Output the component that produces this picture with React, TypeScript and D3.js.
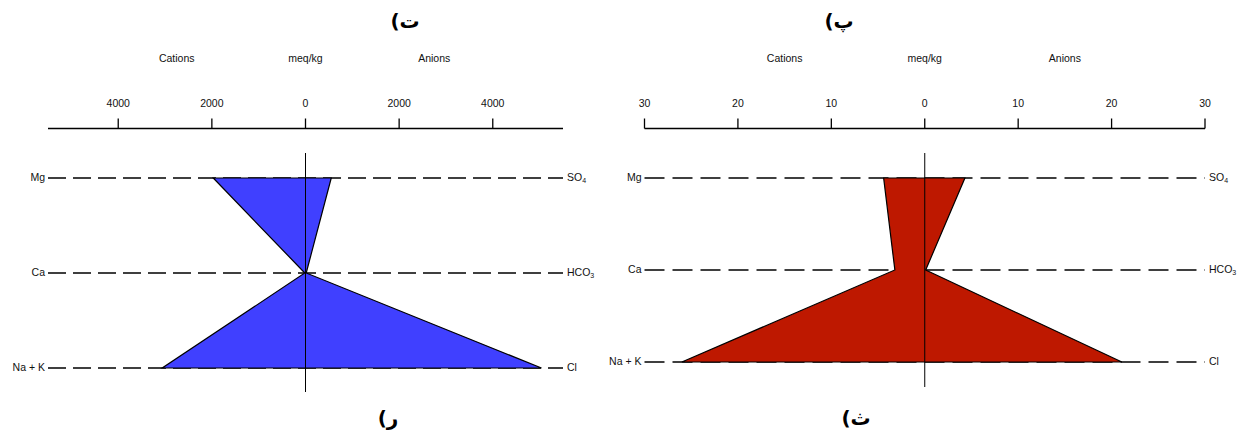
import { useMemo } from 'react';
import * as d3 from 'd3';

// Stiff diagrams, meq/kg
const cationNames = ['Mg', 'Ca', 'Na + K'];
const anionNames = [['SO', '4'], ['HCO', '3'], ['Cl', '']];

const leftCations = [1970, 15, 3060]; // Mg, Ca, Na+K
const leftAnions = [550, 15, 5040]; // SO4, HCO3, Cl
const leftTicks = [-4000, -2000, 0, 2000, 4000];

const rightCations = [4.4, 3.2, 26.0];
const rightAnions = [4.3, 0.1, 21.1];
const rightTicks = [-30, -20, -10, 0, 10, 20, 30];

const FONT = '"Liberation Sans", Arial, sans-serif';
const TITLE_FONT = '"DejaVu Sans", "Noto Sans", sans-serif';

const Stiff = ({ range, max, ticks, rows, lineEnd, cations, anions, fill, dash, topTitle, bottomTitle }) => {
  const x = useMemo(() => d3.scaleLinear().domain([-max, max]).range(range), [max, range]);
  const y = useMemo(() => d3.scalePoint().domain(cationNames).range(rows), [rows]);

  const pts: [number, number][] = [
    [x(-cations[0]), y('Mg')],
    [x(anions[0]), y('Mg')],
    [x(anions[1]), y('Ca')],
    [x(anions[2]), y('Na + K')],
    [x(-cations[2]), y('Na + K')],
    [x(-cations[1]), y('Ca')],
  ];
  const path = d3.line()(pts) + 'Z';

  const axisY = 128.5;

  return (
    <g fontFamily={FONT} fontSize={10.5} fill="#111">
      <text x={topTitle[0]} y={topTitle[1]} fontFamily={TITLE_FONT} fontWeight="bold" fontSize={20} textAnchor="middle" fill="#000">
        {topTitle[2]}
      </text>
      <text x={bottomTitle[0]} y={bottomTitle[1]} fontFamily={TITLE_FONT} fontWeight="bold" fontSize={20} textAnchor="middle" fill="#000">
        {bottomTitle[2]}
      </text>

      <text x={x(-max / 2)} y={62} textAnchor="middle">Cations</text>
      <text x={x(0)} y={62} textAnchor="middle">meq/kg</text>
      <text x={x(max / 2)} y={62} textAnchor="middle">Anions</text>

      {/* top axis */}
      <line x1={range[0]} x2={range[1]} y1={axisY} y2={axisY} stroke="#000" strokeWidth={1.3} />
      {ticks.map(t => (
        <g key={t}>
          <line x1={x(t)} x2={x(t)} y1={axisY} y2={axisY - 10} stroke="#000" strokeWidth={1.3} />
          <text x={x(t)} y={107} textAnchor="middle">{Math.abs(t)}</text>
        </g>
      ))}

      {/* row guides */}
      {cationNames.map((name, i) => (
        <g key={name}>
          <line x1={range[0]} x2={range[1]} y1={y(name)} y2={y(name)} stroke="#000" strokeWidth={1.5} strokeDasharray={dash} />
          <text x={range[0] - 3} y={y(name)} textAnchor="end" dominantBaseline="middle">{name}</text>
          <text x={range[1] + 4} y={y(name)} dominantBaseline="middle">
            {anionNames[i][0]}
            {anionNames[i][1] && (
              <tspan fontSize={7} dy={3}>{anionNames[i][1]}</tspan>
            )}
          </text>
        </g>
      ))}

      <path d={path} fill={fill} stroke="#000" strokeWidth={1.2} />
      <line x1={x(0)} x2={x(0)} y1={153} y2={lineEnd} stroke="#000" strokeWidth={1} />
    </g>
  );
};

export default function App() {
  return (
    <div style={{ position: 'absolute', left: 0, top: 0 }}>
      <svg width={1239} height={431} style={{ display: 'block', background: '#fff' }}>
        <Stiff
          range={[48, 563]}
          max={5500}
          ticks={leftTicks}
          rows={[178, 368]}
          lineEnd={392}
          cations={leftCations}
          anions={leftAnions}
          fill="#4040FF"
          dash="18,7"
          topTitle={[405, 28, '(ت']}
          bottomTitle={[388, 425, '(ر']}
        />
        <Stiff
          range={[644.5, 1205]}
          max={30}
          ticks={rightTicks}
          rows={[178, 362]}
          lineEnd={387}
          cations={rightCations}
          anions={rightAnions}
          fill="#BE1800"
          dash="20,8"
          topTitle={[839, 28, '(پ']}
          bottomTitle={[856, 425, '(ث']}
        />
      </svg>
    </div>
  );
}
